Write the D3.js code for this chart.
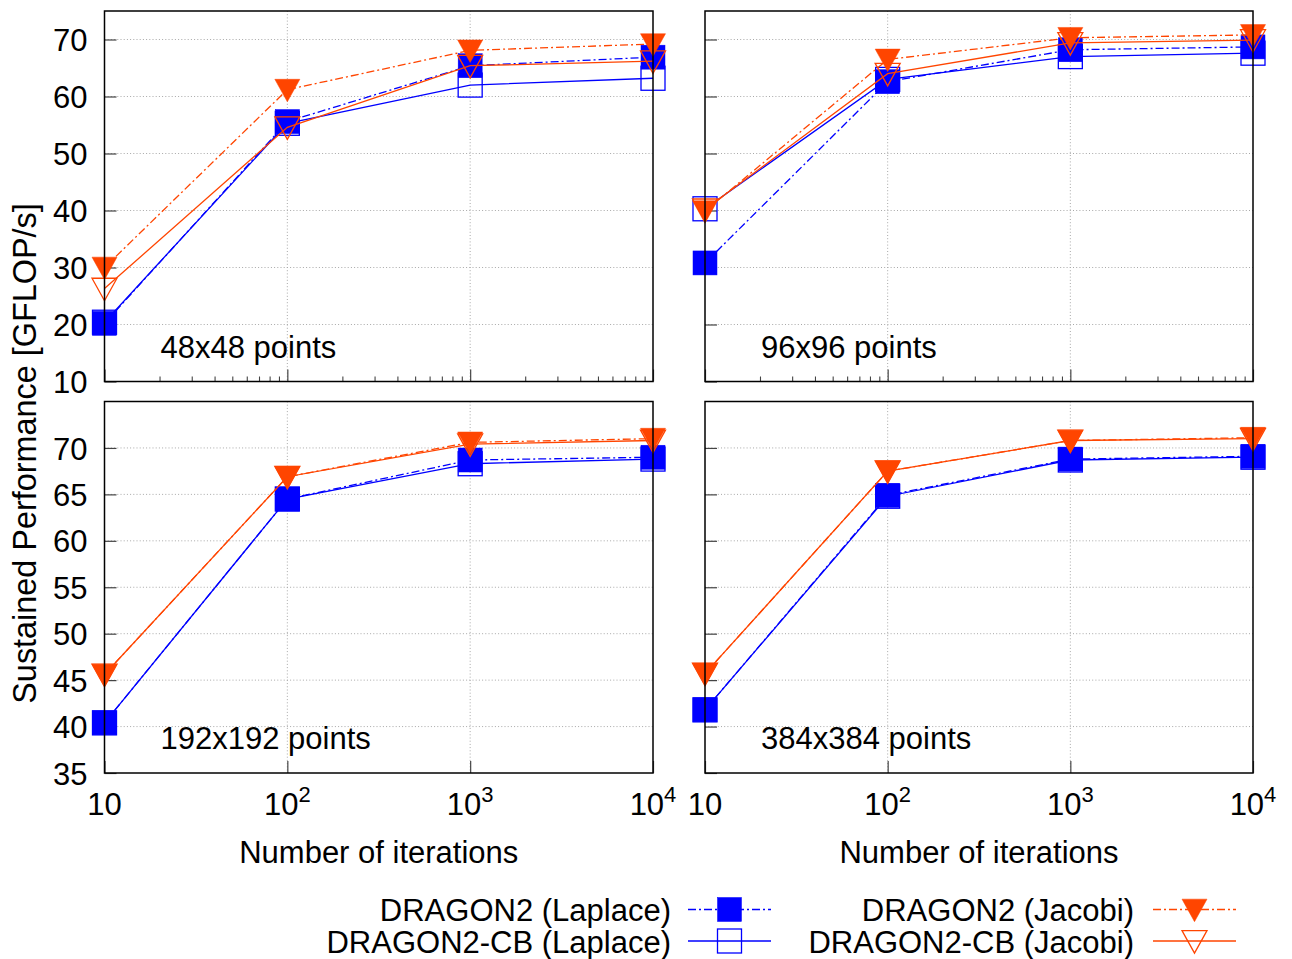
<!DOCTYPE html>
<html>
<head>
<meta charset="utf-8">
<script src="https://cdn.jsdelivr.net/npm/d3@7"></script>
<style>
  body { margin: 0; background: #fff; }
  text { font-family: "Liberation Sans", Arial, Helvetica, sans-serif; font-size: 31px; fill: #000; }
</style>
</head>
<body>
<svg id="chart" width="1292" height="959"></svg>
<script>
// Number of iterations (log axis)
const iterations = [10, 100, 1000, 10000];
const gridSizes = ["48x48 points", "96x96 points", "192x192 points", "384x384 points"];
const seriesNames = ["DRAGON2 (Laplace)", "DRAGON2-CB (Laplace)", "DRAGON2 (Jacobi)", "DRAGON2-CB (Jacobi)"];

// Sustained performance in GFLOP/s, one array per solver variant and grid size
const laplace48     = [20.2, 55.6, 65.4, 66.9];
const laplaceCB48   = [20.4, 55.3, 62.0, 63.2];
const jacobi48      = [30.0, 61.2, 68.1, 69.2];
const jacobiCB48    = [26.3, 54.6, 65.4, 66.2];

const laplace96     = [30.8, 62.6, 68.2, 68.7];
const laplaceCB96   = [40.3, 63.0, 67.0, 67.6];
const jacobi96      = [39.9, 66.5, 70.3, 70.8];
const jacobiCB96    = [40.2, 64.0, 69.4, 69.9];

const laplace192    = [40.4, 64.5, 68.7, 69.0];
const laplaceCB192  = [40.4, 64.5, 68.3, 68.8];
const jacobi192     = [45.6, 66.9, 70.6, 71.0];
const jacobiCB192   = [45.6, 66.9, 70.4, 70.8];

const laplace384    = [41.8, 64.9, 68.8, 69.1];
const laplaceCB384  = [41.8, 64.8, 68.7, 69.0];
const jacobi384     = [45.7, 67.5, 70.8, 71.1];
const jacobiCB384   = [45.7, 67.5, 70.8, 71.0];

const yTicksSmallGrid = [10, 20, 30, 40, 50, 60, 70];
const yTicksLargeGrid = [35, 40, 45, 50, 55, 60, 65, 70];
const xTickExponents = [1, 2, 3, 4];

const panelValues = [
  [laplace48, laplaceCB48, jacobi48, jacobiCB48],
  [laplace96, laplaceCB96, jacobi96, jacobiCB96],
  [laplace192, laplaceCB192, jacobi192, jacobiCB192],
  [laplace384, laplaceCB384, jacobi384, jacobiCB384]
];

// Panel geometry
const panels = [
  { x0: 104.5, x1: 653, y0: 11, y1: 381.5, domain: [10, 75], ticks: yTicksSmallGrid, yLabels: true,  xLabels: false, minor: true },
  { x0: 705,   x1: 1253, y0: 11, y1: 381.5, domain: [10, 75], ticks: yTicksSmallGrid, yLabels: false, xLabels: false, minor: true },
  { x0: 104.5, x1: 653, y0: 401.5, y1: 773, domain: [35, 75], ticks: yTicksLargeGrid, yLabels: true,  xLabels: true,  minor: false },
  { x0: 705,   x1: 1253, y0: 401.5, y1: 773, domain: [35, 75], ticks: yTicksLargeGrid, yLabels: false, xLabels: true,  minor: false }
];

const BLUE = "#0000ff", ORANGE = "#ff4500";
const DASHDOT = "8,3,2,3";
const styles = [
  { color: BLUE,   dash: DASHDOT, marker: "square",   filled: true  },
  { color: BLUE,   dash: null,    marker: "square",   filled: false },
  { color: ORANGE, dash: DASHDOT, marker: "triangle", filled: true  },
  { color: ORANGE, dash: null,    marker: "triangle", filled: false }
];

const svg = d3.select("#chart");

function drawMarker(g, cx, cy, st) {
  if (st.marker === "square") {
    const s = 24;
    g.append("rect")
      .attr("x", cx - s / 2).attr("y", cy - s / 2)
      .attr("width", s).attr("height", s)
      .attr("fill", st.filled ? st.color : "none")
      .attr("stroke", st.color).attr("stroke-width", st.filled ? 0.5 : 1.3);
  } else {
    const w = 25, h = 22.5;
    const top = cy - 0.46 * h, bot = cy + 0.54 * h;
    g.append("path")
      .attr("d", `M${cx - w / 2},${top}L${cx + w / 2},${top}L${cx},${bot}Z`)
      .attr("fill", st.filled ? st.color : "none")
      .attr("stroke", st.color).attr("stroke-width", st.filled ? 0.5 : 1.3)
      .attr("stroke-linejoin", "miter");
  }
}

const minorTicks = [];
[10, 100, 1000].forEach(d => { for (let k = 2; k <= 9; k++) minorTicks.push(d * k); });

panels.forEach((p, i) => {
  const x = d3.scaleLog().domain([10, 10000]).range([p.x0, p.x1]);
  const y = d3.scaleLinear().domain(p.domain).range([p.y1, p.y0]);
  const g = svg.append("g");

  // dotted grid
  g.append("g").selectAll("line")
    .data(p.ticks.filter(t => t > p.domain[0]))
    .join("line")
    .attr("x1", p.x0).attr("x2", p.x1)
    .attr("y1", d => y(d)).attr("y2", d => y(d))
    .attr("stroke", "#a8a8a8").attr("stroke-width", 1).attr("stroke-dasharray", "1,2.2");
  g.append("g").selectAll("line")
    .data([100, 1000])
    .join("line")
    .attr("x1", d => x(d)).attr("x2", d => x(d))
    .attr("y1", p.y0).attr("y2", p.y1)
    .attr("stroke", "#a8a8a8").attr("stroke-width", 1).attr("stroke-dasharray", "1,2.2");

  // y axis: inward ticks, labels on the left column only
  const yAxis = d3.axisLeft(y).tickValues(p.ticks).tickSize(-12).tickPadding(17)
    .tickFormat(p.yLabels ? d3.format("d") : () => "");
  const ya = g.append("g").attr("transform", `translate(${p.x0},0)`).call(yAxis);
  ya.select(".domain").remove();
  ya.selectAll(".tick line").attr("stroke", "#444").attr("stroke-width", 1.2);
  ya.selectAll(".tick text").attr("font-size", null).attr("font-family", null)
    .style("font-size", "31px").attr("dy", "0.36em");

  // x axis: major (and minor) inward ticks
  const xAxis = d3.axisBottom(x).tickValues(iterations).tickSize(-12).tickFormat(() => "");
  const xa = g.append("g").attr("transform", `translate(0,${p.y1})`).call(xAxis);
  xa.select(".domain").remove();
  xa.selectAll(".tick line").attr("stroke", "#444").attr("stroke-width", 1.2);
  if (p.minor) {
    const xm = g.append("g").attr("transform", `translate(0,${p.y1})`)
      .call(d3.axisBottom(x).tickValues(minorTicks).tickSize(-5).tickFormat(() => ""));
    xm.select(".domain").remove();
    xm.selectAll(".tick line").attr("stroke", "#444").attr("stroke-width", 1.1);
  }

  if (p.xLabels) {
    xTickExponents.forEach(e => {
      const t = g.append("text")
        .attr("x", x(Math.pow(10, e))).attr("y", 815)
        .attr("text-anchor", "middle").text("10");
      if (e > 1) {
        t.append("tspan").attr("dy", -13).style("font-size", "22px").text(e);
      }
    });
    g.append("text")
      .attr("x", (p.x0 + p.x1) / 2).attr("y", 863)
      .attr("text-anchor", "middle").text("Number of iterations");
  }

  // series: line first, then markers
  panelValues[i].forEach((vals, s) => {
    const st = styles[s];
    const pts = iterations.map((it, k) => [x(it), y(vals[k])]);
    g.append("path")
      .attr("d", d3.line()(pts))
      .attr("fill", "none")
      .attr("stroke", st.color).attr("stroke-width", 1.3)
      .attr("stroke-dasharray", st.dash);
    pts.forEach(([cx, cy]) => drawMarker(g, cx, cy, st));
  });

  // frame
  g.append("rect")
    .attr("x", p.x0).attr("y", p.y0)
    .attr("width", p.x1 - p.x0).attr("height", p.y1 - p.y0)
    .attr("fill", "none").attr("stroke", "#000").attr("stroke-width", 1.5);

  // grid size label
  g.append("text")
    .attr("x", p.x0 + 56).attr("y", p.y1 - 24)
    .text(gridSizes[i]);
});

// shared y title
svg.append("text")
  .attr("transform", "translate(36,453.5) rotate(-90)")
  .attr("text-anchor", "middle")
  .style("font-size", "32.4px")
  .text("Sustained Performance [GFLOP/s]");

// legend: two columns of two entries
const legendCols = [
  { textEnd: 671, lineX0: 688, lineX1: 771, markX: 729.5 },
  { textEnd: 1134, lineX0: 1153, lineX1: 1236, markX: 1194.5 }
];
const legendRows = [909.5, 941];
seriesNames.forEach((name, s) => {
  const col = legendCols[Math.floor(s / 2)];
  const ry = legendRows[s % 2];
  const st = styles[s];
  const lg = svg.append("g");
  lg.append("text").attr("x", col.textEnd).attr("y", ry + 11.5)
    .attr("text-anchor", "end").text(name);
  lg.append("line")
    .attr("x1", col.lineX0).attr("x2", col.lineX1)
    .attr("y1", ry).attr("y2", ry)
    .attr("stroke", st.color).attr("stroke-width", 1.3)
    .attr("stroke-dasharray", st.dash);
  drawMarker(lg, col.markX, ry, st);
});
</script>
</body>
</html>
